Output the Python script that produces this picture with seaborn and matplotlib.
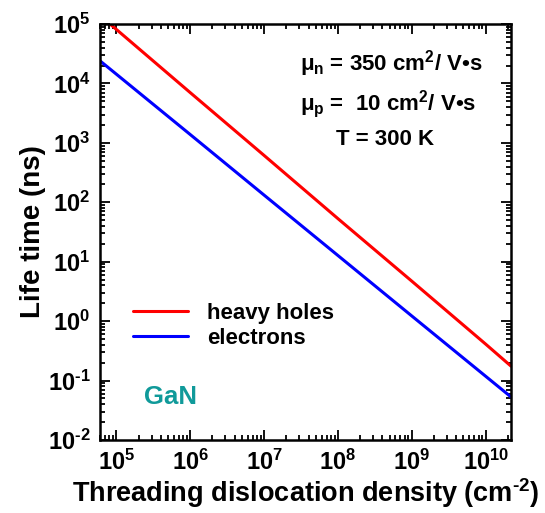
import numpy as np
import pandas as pd
import matplotlib
matplotlib.use("Agg")
import matplotlib.pyplot as plt
import matplotlib.ticker as mticker
import seaborn as sns

# Threading dislocation density (cm^-2) and minority-carrier lifetime (ns)
density = [6e4, 1e5, 1e6, 1e7, 1e8, 1e9, 1e10, 2.2e10]
heavy_holes = [1.39e5, 8.1e4, 7.0e3, 614, 53, 4.7, 0.41, 0.175]
electrons = [2.4e4, 1.43e4, 1.38e3, 132, 12.7, 1.22, 0.118, 0.053]

series_names = ["heavy holes", "electrons"]
series_colors = ["#ff0000", "#0000ff"]

x_decades = [5, 6, 7, 8, 9, 10]
y_decades = [-2, -1, 0, 1, 2, 3, 4, 5]

df = pd.DataFrame({
    "density": density * 2,
    "lifetime": heavy_holes + electrons,
    "carrier": [series_names[0]] * len(density) + [series_names[1]] * len(density),
})

sns.set_style("ticks")
plt.rcParams["font.family"] = ["Liberation Sans", "DejaVu Sans"]
plt.rcParams["font.weight"] = "bold"
plt.rcParams["text.color"] = "black"
plt.rcParams["axes.labelcolor"] = "black"
plt.rcParams["xtick.color"] = "black"
plt.rcParams["ytick.color"] = "black"
plt.rcParams["mathtext.fontset"] = "custom"
for key in ("rm", "it", "bf", "sf"):
    plt.rcParams[f"mathtext.{key}"] = "Liberation Sans:bold"

fig = plt.figure(figsize=(5.45, 5.13), dpi=100)
ax = fig.add_axes([100 / 545, 1 - 440 / 513, 411 / 545, 416 / 513])

sns.lineplot(data=df, x="density", y="lifetime", hue="carrier",
             hue_order=series_names, palette=series_colors,
             linewidth=2.2, ax=ax)

ax.set_xscale("log")
ax.set_yscale("log")
ax.set_xlim(6e4, 2.2e10)
ax.set_ylim(1e-2, 1e5)

ax.xaxis.set_major_locator(mticker.FixedLocator([10.0 ** d for d in x_decades]))
ax.yaxis.set_major_locator(mticker.FixedLocator([10.0 ** d for d in y_decades]))
fmt = mticker.FuncFormatter(lambda v, p: rf"$10^{{\text{{{int(round(np.log10(v)))}}}}}$")
ax.xaxis.set_major_formatter(fmt)
ax.yaxis.set_major_formatter(fmt)
ax.xaxis.set_minor_locator(mticker.LogLocator(base=10, subs=np.arange(2, 10), numticks=30))
ax.yaxis.set_minor_locator(mticker.LogLocator(base=10, subs=np.arange(2, 10), numticks=30))
ax.xaxis.set_minor_formatter(mticker.NullFormatter())
ax.yaxis.set_minor_formatter(mticker.NullFormatter())

ax.tick_params(which="both", direction="in", top=True, right=True, width=1.3, colors="black")
ax.tick_params(which="major", length=7, labelsize=17, pad=7)
ax.tick_params(which="minor", length=3.5)
for s in ax.spines.values():
    s.set_linewidth(1.8)
    s.set_color("black")

ax.set_xlabel(r"Threading dislocation density (cm$^{\text{-2}}$)", fontsize=19.5,
              fontweight="bold", labelpad=1)
ax.set_ylabel("Life time (ns)", fontsize=20, fontweight="bold", labelpad=1)

ax.legend(loc="center left", bbox_to_anchor=(0.08, 0.274), frameon=False,
          fontsize=16, handlelength=2.5, handletextpad=0.85, labelspacing=0.2,
          borderpad=0, borderaxespad=0, title=None)

ax.text(0.708, 0.906, r"$\mu_n$ = 350 cm$^2$/ V•s", transform=ax.transAxes,
        ha="center", va="center", fontsize=16, fontweight="bold")
ax.text(0.700, 0.807, r"$\mu_p$ =  10 cm$^2$/ V•s", transform=ax.transAxes,
        ha="center", va="center", fontsize=16, fontweight="bold")
ax.text(0.693, 0.723, "T = 300 K", transform=ax.transAxes,
        ha="center", va="center", fontsize=16, fontweight="bold")
ax.text(0.108, 0.104, "GaN", transform=ax.transAxes, color="#109a9a",
        ha="left", va="center", fontsize=18.5, fontweight="bold")

fig.savefig("out.png", dpi=100)
